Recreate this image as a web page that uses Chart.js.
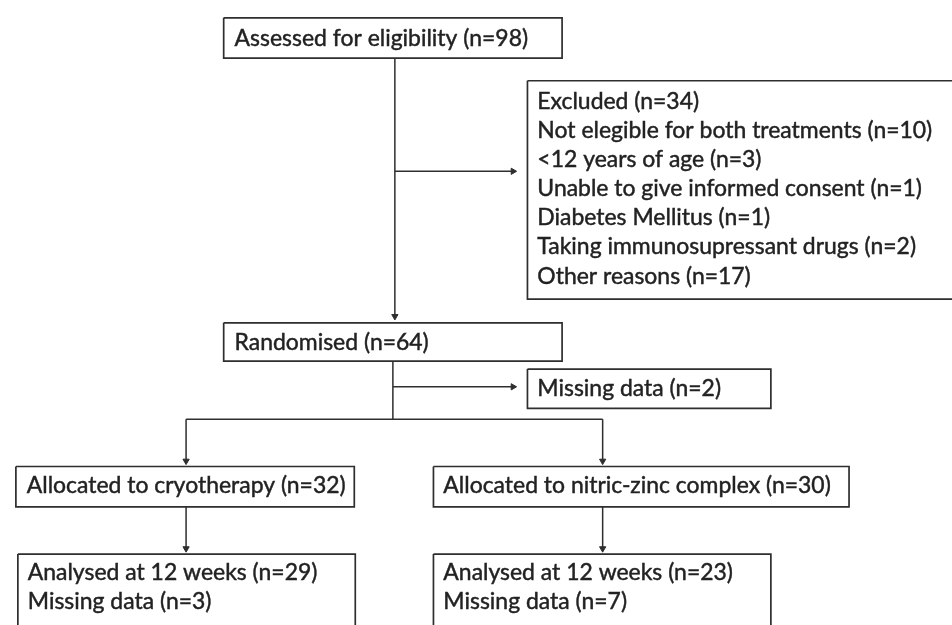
<!DOCTYPE html>
<html lang="en">
<head>
    <meta charset="UTF-8">
    <title>Trial flow diagram</title>
    <script src="https://cdn.jsdelivr.net/npm/chart.js"></script>
    <style>
        html, body { margin: 0; padding: 0; background: #fff; }
        canvas { display: block; }
    </style>
</head>
<body>
    <canvas id="flow" width="952" height="625"></canvas>

    <script>
        // --- data ---
        const assessedN = 98;
        const randomisedN = 64;
        const missingAfterRandomN = 2;
        const excludedN = 34;
        const exclusionReasons = ['Not elegible for both treatments', '<12 years of age', 'Unable to give informed consent', 'Diabetes Mellitus', 'Taking immunosupressant drugs', 'Other reasons'];
        const exclusionCounts = [10, 3, 1, 1, 2, 17];
        const armNames = ['cryotherapy', 'nitric-zinc complex'];
        const armAllocated = [32, 30];
        const armAnalysed = [29, 23];
        const armMissing = [3, 7];

        const nText = (label, n) => label + ' (n=' + n + ')';

        // --- layout (diagram units = pixels of the 952x625 frame) ---
        const boxes = [
            { l: 221, t: 13,  r: 563, b: 54,  tx: 232, ty: 34,  lines: [nText('Assessed for eligibility', assessedN)] },
            { l: 528, t: 77,  r: 970, b: 299, tx: 538, ty: 98,
              lines: [nText('Excluded', excludedN)].concat(exclusionReasons.map((r, i) => nText(r, exclusionCounts[i]))) },
            { l: 221, t: 323, r: 563, b: 362, tx: 232, ty: 343, lines: [nText('Randomised', randomisedN)] },
            { l: 528, t: 370, r: 774, b: 410, tx: 538, ty: 390, lines: [nText('Missing data', missingAfterRandomN)] },
            { l: 11,  t: 469, r: 353, b: 510, tx: 22,  ty: 488, lines: [nText('Allocated to ' + armNames[0], armAllocated[0])] },
            { l: 433, t: 469, r: 853, b: 510, tx: 443, ty: 488, lines: [nText('Allocated to ' + armNames[1], armAllocated[1])] },
            { l: 13,  t: 558, r: 354, b: 660, tx: 23,  ty: 577,
              lines: [nText('Analysed at 12 weeks', armAnalysed[0]), nText('Missing data', armMissing[0])] },
            { l: 433, t: 558, r: 774, b: 660, tx: 443, ty: 577,
              lines: [nText('Analysed at 12 weeks', armAnalysed[1]), nText('Missing data', armMissing[1])] }
        ];
        const lineGap = 29.6;

        // connectors: [x1, y1, x2, y2, arrow?]
        const links = [
            [394, 54, 394, 320, true],
            [394, 169, 517, 169, true],
            [392, 362, 392, 421, false],
            [392, 388, 517, 388, true],
            [183, 421, 604, 421, false],
            [183, 421, 183, 467, true],
            [604, 421, 604, 467, true],
            [183, 510, 183, 556, true],
            [604, 510, 604, 556, true]
        ];

        const ink = '#2e2e2e';
        const head = 3.6;
        const datasets = [];

        boxes.forEach(bx => {
            datasets.push({
                data: [
                    { x: bx.l, y: bx.t }, { x: bx.r, y: bx.t },
                    { x: bx.r, y: bx.b }, { x: bx.l, y: bx.b }, { x: bx.l, y: bx.t }
                ],
                showLine: true,
                borderColor: ink,
                borderWidth: 1.7,
                pointRadius: 0,
                fill: false,
                clip: false
            });
        });

        links.forEach(([x1, y1, x2, y2, arrow]) => {
            const pts = [{ x: x1, y: y1 }];
            let rot = 0;
            if (arrow) {
                if (x1 === x2) { pts.push({ x: x2, y: y2 - head }); rot = 180; }
                else { pts.push({ x: x2 - head, y: y2 }); rot = 90; }
            } else {
                pts.push({ x: x2, y: y2 });
            }
            datasets.push({
                data: pts,
                showLine: true,
                borderColor: ink,
                borderWidth: 1.5,
                pointRadius: [0, arrow ? head : 0],
                pointStyle: 'triangle',
                rotation: rot,
                pointBackgroundColor: ink,
                pointBorderColor: ink,
                pointBorderWidth: 1,
                fill: false,
                clip: false
            });
        });

        const fontFamily = 'Lato, "Open Sans", sans-serif';

        const textPlugin = {
            id: 'boxText',
            afterDatasetsDraw(chart) {
                const { ctx, scales } = chart;
                ctx.save();
                // size the type so the longest exclusion line spans ~395px, as in the figure
                ctx.font = '20px ' + fontFamily;
                const w = ctx.measureText(boxes[1].lines[1]).width;
                const fontSize = 20 * 395 / w;
                ctx.font = fontSize.toFixed(2) + 'px ' + fontFamily;
                ctx.fillStyle = '#222';
                ctx.strokeStyle = '#222';
                ctx.lineWidth = 0.45;
                ctx.textBaseline = 'middle';
                ctx.textAlign = 'left';
                boxes.forEach(bx => {
                    bx.lines.forEach((txt, i) => {
                        const px = scales.x.getPixelForValue(bx.tx);
                        const py = scales.y.getPixelForValue(bx.ty + i * lineGap);
                        ctx.fillText(txt, px, py);
                        ctx.strokeText(txt, px, py);
                    });
                });
                ctx.restore();
            }
        };

        new Chart(document.getElementById('flow'), {
            type: 'scatter',
            data: { datasets: datasets },
            options: {
                responsive: false,
                animation: false,
                layout: { padding: 0 },
                plugins: { legend: { display: false }, tooltip: { enabled: false } },
                scales: {
                    x: { type: 'linear', min: 0, max: 952, display: false },
                    y: { type: 'linear', min: 0, max: 625, reverse: true, display: false }
                }
            },
            plugins: [textPlugin]
        });
    </script>
</body>
</html>
